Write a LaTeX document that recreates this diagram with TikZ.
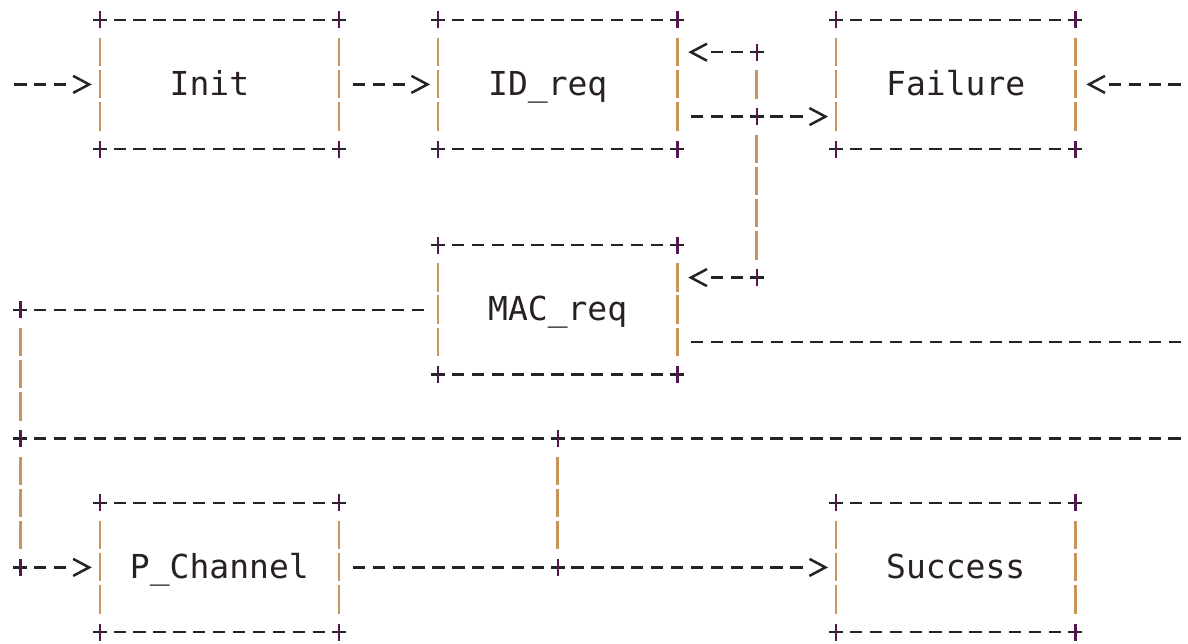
\documentclass[tikz,border=0pt]{standalone}
\usepackage{fontspec}
\setmonofont{DejaVu Sans Mono}
\usepackage{xcolor}
\usepackage{tikz}
\usetikzlibrary{arrows.meta}
\definecolor{dashc}{RGB}{36,36,40}
\definecolor{barc}{RGB}{200,150,92}
\definecolor{plusc}{RGB}{84,22,80}
\definecolor{txtc}{RGB}{40,32,36}
\tikzset{
  dashln/.style={draw=dashc,line width=2.5pt,dash pattern=on 12.3pt off 7.6pt},
  barln/.style={draw=barc,line width=2.6pt,dash pattern=on 28.4pt off 3.8pt,
    shorten <=18pt,shorten >=18pt},
  tipln/.style={draw=dashc,dash pattern=on 0pt off 3000pt,line cap=butt,
    -{Straight Barb[length=16pt,width=17pt]}},
  gt/.style={shorten >=30pt,postaction={tipln,shorten >=8pt}},
  lt/.style={shorten >=30pt,postaction={tipln,shorten >=11pt}},
  stnode/.style={minimum width=238.8pt,minimum height=128.8pt,inner sep=0pt},
  sttext/.style={font=\fontsize{33}{40}\selectfont\ttfamily,text=txtc,
    anchor=base,yshift=-11pt,inner sep=0pt}
}
\newcommand{\dskip}{13.75pt}
\newcommand{\pmark}[1]{%
  \draw[dashc,line width=2.4pt] ([xshift=-7pt]#1) -- ([xshift=7pt]#1);
  \draw[plusc,line width=2.4pt] ([yshift=-8.5pt]#1) -- ([yshift=8.5pt]#1);}
\newcommand{\stbox}[5]{%
  \node[stnode] (#1) at ({#2+6},{#3+2}) {};
  \node[sttext] (#1-t) at ({#2+6+#5},{#3+2}) {#4};
  \draw[dashln] ([xshift=\dskip]#1.north west) -- ([xshift=-\dskip]#1.north east);
  \draw[dashln] ([xshift=\dskip]#1.south west) -- ([xshift=-\dskip]#1.south east);
  \draw[barln] (#1.north west) -- (#1.south west);
  \draw[barln] (#1.north east) -- (#1.south east);
  \pmark{#1.north west} \pmark{#1.north east}
  \pmark{#1.south west} \pmark{#1.south east}}

\begin{document}
\begin{tikzpicture}[x=19.9pt,y=-32.2pt]
  \useasboundingbox (-20.4pt,20pt) rectangle (1167.6pt,-623pt);
  \stbox{Init}{4}{0}{Init}{-0.5}
  \stbox{IDreq}{21}{0}{ID\_req}{-0.5}
  \stbox{Failure}{41}{0}{Failure}{0}
  \stbox{MACreq}{21}{7}{MAC\_req}{0}
  \stbox{PChan}{4}{15}{P\_Channel}{0}
  \stbox{Success}{41}{15}{Success}{0}
  % junctions and loose ends
  \coordinate (jA) at (37,1);
  \coordinate (jB) at (37,3);
  \coordinate (jC) at (37,8);
  \coordinate (kA) at (0,9);
  \coordinate (kB) at (0,13);
  \coordinate (kC) at (27,13);
  \coordinate (kD) at (0,17);
  \coordinate (kE) at (27,17);
  \coordinate (inL) at (-0.309,2);
  \coordinate (rA) at (58.309,2);
  \coordinate (rB) at (58.309,10);
  \coordinate (rC) at (58.309,13);
  % top row
  \draw[dashln,gt] (inL) -- (Init.west);
  \draw[dashln,gt,shorten <=\dskip] (Init.east) -- (IDreq.west);
  \draw[dashln,shorten <=\dskip,shorten >=\dskip] (IDreq.east |- jB) -- (jB);
  \draw[dashln,gt,shorten <=\dskip] (jB) -- (Failure.west |- jB);
  \draw[dashln,lt,shorten <=\dskip] (jA) -- (IDreq.east |- jA);
  \draw[dashln,lt] (rA) -- (Failure.east);
  \draw[barln] (jA) -- (jB);
  \draw[barln] (jB) -- (jC);
  \draw[dashln,lt,shorten <=\dskip] (jC) -- (MACreq.east |- jC);
  % MAC_req outputs
  \draw[dashln,shorten <=\dskip,shorten >=\dskip] (MACreq.west) -- (kA);
  \draw[dashln,shorten <=\dskip] (MACreq.east |- rB) -- (rB);
  \draw[barln] (kA) -- (kB);
  \draw[dashln,shorten >=\dskip] (rC) -- (kC);
  \draw[dashln,shorten <=\dskip,shorten >=\dskip] (kC) -- (kB);
  \draw[barln] (kB) -- (kD);
  \draw[barln] (kC) -- (kE);
  % bottom row
  \draw[dashln,gt,shorten <=\dskip] (kD) -- (PChan.west);
  \draw[dashln,shorten <=\dskip,shorten >=\dskip] (PChan.east) -- (kE);
  \draw[dashln,gt,shorten <=\dskip] (kE) -- (Success.west);
  \foreach \p in {jA,jB,jC,kA,kB,kC,kD,kE}{\pmark{\p}}
\end{tikzpicture}
\end{document}
